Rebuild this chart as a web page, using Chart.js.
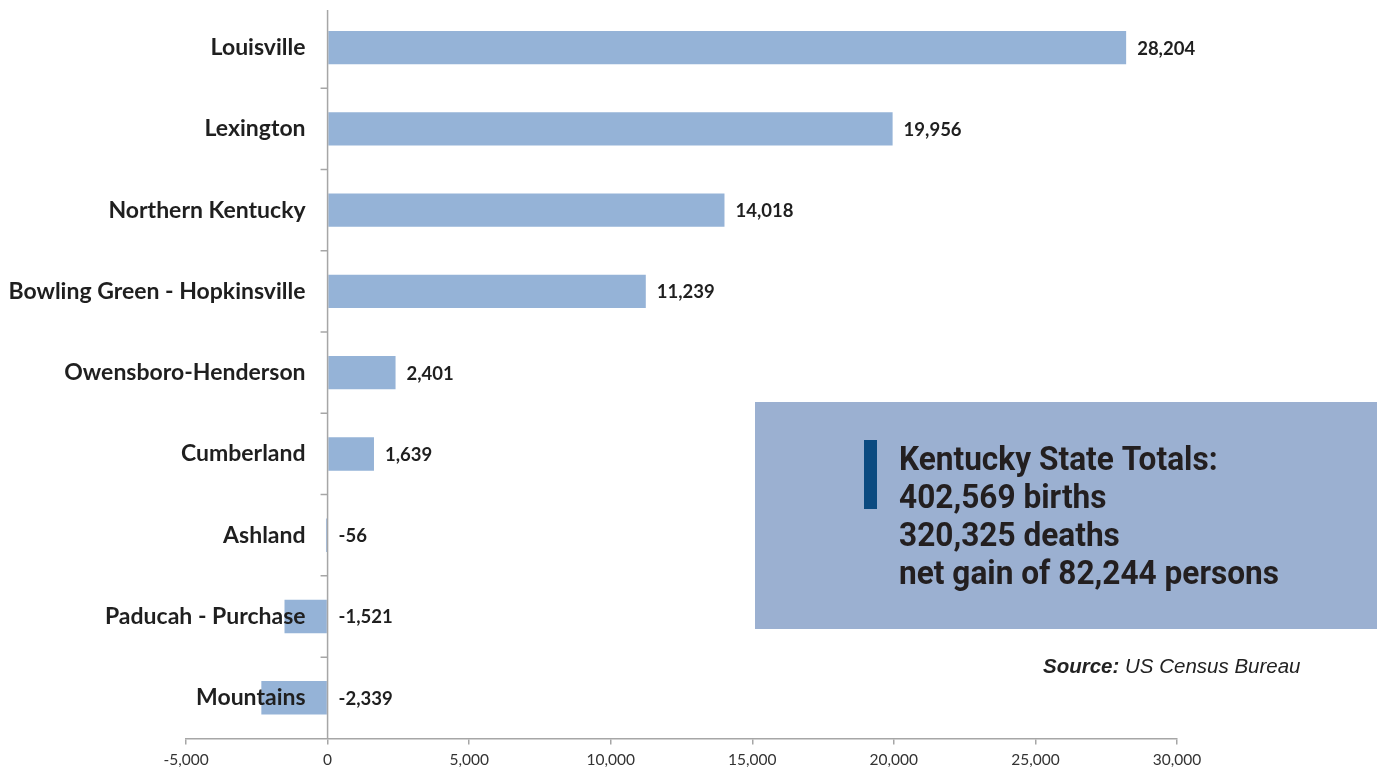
<!DOCTYPE html>
<html><head><meta charset="utf-8">
<script src="https://cdn.jsdelivr.net/npm/chart.js@4/dist/chart.umd.min.js"></script>
<style>html,body{margin:0;padding:0;background:#fff;} canvas{display:block;}</style>
</head><body>
<canvas id="c" width="1382" height="770"></canvas>
<script>
const categories = ["Louisville","Lexington","Northern Kentucky","Bowling Green - Hopkinsville","Owensboro-Henderson","Cumberland","Ashland","Paducah - Purchase","Mountains"];
const netChange = [28204,19956,14018,11239,2401,1639,-56,-1521,-2339];
const xMin = -5000, xMax = 30000, xStep = 5000;
const boxLines = ["Kentucky State Totals:","402,569 births","320,325 deaths","net gain of 82,244 persons"];
const sourceBold = "Source:";
const sourceRest = " US Census Bureau";

const fmt = v => v.toLocaleString('en-US');

const overlay = {
  id: 'overlay',
  afterDatasetsDraw(chart) {
    const {ctx, scales: {x, y}, chartArea} = chart;
    const x0 = x.getPixelForValue(0);
    ctx.save();
    // vertical axis at zero
    ctx.strokeStyle = '#a6a6a6';
    ctx.lineWidth = 1.5;
    ctx.beginPath();
    ctx.moveTo(x0, chartArea.top + 3);
    ctx.lineTo(x0, chartArea.bottom);
    for (let i = 1; i < categories.length; i++) {
      const yb = (y.getPixelForValue(i - 1) + y.getPixelForValue(i)) / 2;
      ctx.moveTo(x0 - 7, yb);
      ctx.lineTo(x0, yb);
    }
    ctx.stroke();

    // category labels
    ctx.fillStyle = '#1f1f1f';
    ctx.font = 'bold 23px Lato, "Open Sans", sans-serif';
    ctx.textAlign = 'right';
    ctx.textBaseline = 'middle';
    categories.forEach((c, i) => ctx.fillText(c, x0 - 22, y.getPixelForValue(i)));

    // value labels
    ctx.font = 'bold 18.5px Lato, "Open Sans", sans-serif';
    ctx.textAlign = 'left';
    netChange.forEach((v, i) => {
      const px = Math.max(x.getPixelForValue(v), x0) + 11;
      ctx.fillText(fmt(v), px, y.getPixelForValue(i) + 1);
    });

    // info box
    ctx.fillStyle = '#9bb0d1';
    ctx.fillRect(755, 402, 622, 227);
    ctx.fillStyle = '#0b4a80';
    ctx.fillRect(864, 440, 13, 69);
    ctx.fillStyle = '#231f20';
    ctx.font = 'bold 34px Roboto, sans-serif';
    ctx.textBaseline = 'alphabetic';
    const w = ctx.measureText(boxLines[3]).width;
    const sx = 380 / w;
    boxLines.forEach((t, i) => {
      ctx.save();
      ctx.translate(899, 470 + i * 38);
      ctx.scale(sx, 1);
      ctx.fillText(t, 0, 0);
      ctx.restore();
    });

    // source
    ctx.fillStyle = '#222';
    ctx.font = 'italic bold 20.5px "Liberation Sans", Arial, sans-serif';
    ctx.fillText(sourceBold, 1043, 673);
    const bw = ctx.measureText(sourceBold).width;
    ctx.font = 'italic 20.5px "Liberation Sans", Arial, sans-serif';
    ctx.fillText(sourceRest, 1043 + bw, 673);
    ctx.restore();
  }
};

new Chart(document.getElementById('c'), {
  type: 'bar',
  data: {
    labels: categories,
    datasets: [{
      data: netChange,
      backgroundColor: '#95b3d7',
      borderWidth: 0,
      categoryPercentage: 1,
      barPercentage: 0.41
    }]
  },
  options: {
    indexAxis: 'y',
    responsive: false,
    animation: false,
    events: [],
    layout: { padding: { left: 186, right: 205, top: 7, bottom: -5 } },
    plugins: { legend: { display: false }, tooltip: { enabled: false } },
    scales: {
      x: {
        min: xMin, max: xMax,
        ticks: {
          stepSize: xStep,
          color: '#333',
          font: { family: 'Lato, "Open Sans", sans-serif', size: 15.5 },
          padding: 6,
          maxRotation: 0,
          callback: v => fmt(v)
        },
        grid: { drawOnChartArea: false, tickLength: 6, color: '#a6a6a6', lineWidth: 1.5 },
        border: { color: '#a6a6a6', width: 1.5 }
      },
      y: { display: false, offset: true }
    }
  },
  plugins: [overlay]
});
</script>
</body></html>
